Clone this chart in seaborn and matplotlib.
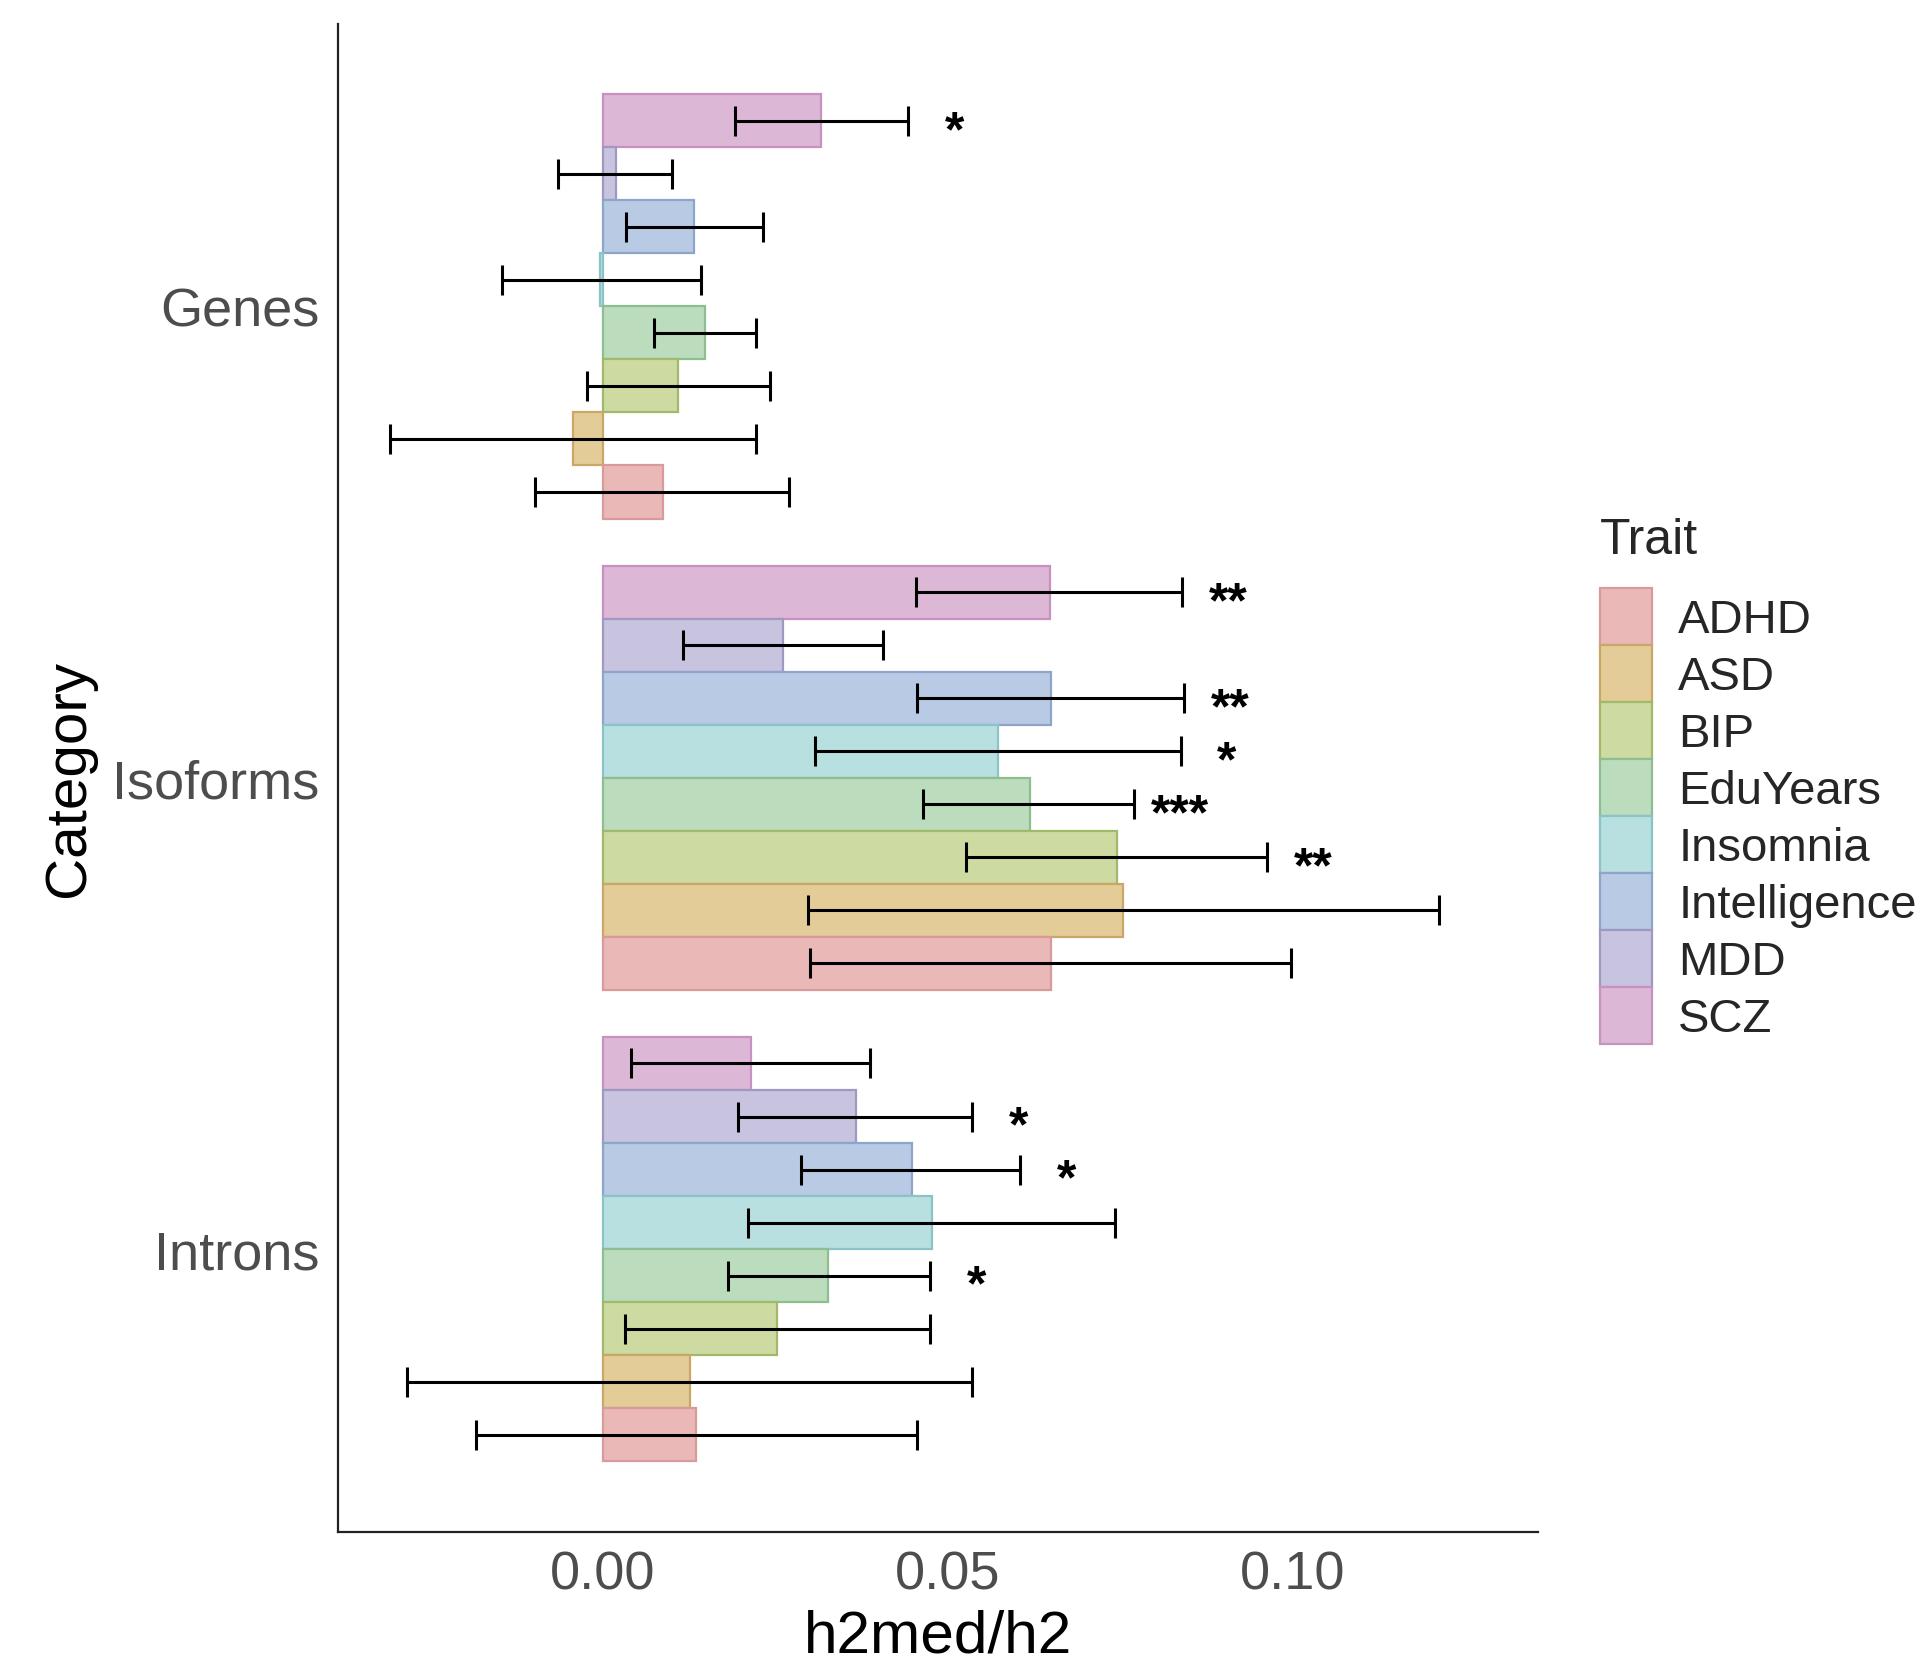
import pandas as pd
import numpy as np
import matplotlib
matplotlib.use('Agg')
import matplotlib.pyplot as plt
import seaborn as sns
from matplotlib.patches import Patch

# Categories (top to bottom) and traits (legend order)
categories = ['Genes', 'Isoforms', 'Introns']
traits = ['ADHD', 'ASD', 'BIP', 'EduYears', 'Insomnia', 'Intelligence', 'MDD', 'SCZ']

# h2med/h2 estimates, lower and upper error bounds, significance stars (trait order)
genes_est = [0.0087, -0.0043, 0.0109, 0.0149, -0.0004, 0.0132, 0.0020, 0.0317]
genes_lo = [-0.0098, -0.0308, -0.0023, 0.0075, -0.0146, 0.0034, -0.0064, 0.0192]
genes_hi = [0.0270, 0.0222, 0.0242, 0.0222, 0.0142, 0.0233, 0.0101, 0.0443]
genes_sig = ['', '', '', '', '', '', '', '*']

isoforms_est = [0.0650, 0.0754, 0.0746, 0.0619, 0.0573, 0.0650, 0.0262, 0.0648]
isoforms_lo = [0.0301, 0.0297, 0.0527, 0.0464, 0.0308, 0.0456, 0.0116, 0.0454]
isoforms_hi = [0.0998, 0.1212, 0.0963, 0.0770, 0.0838, 0.0842, 0.0406, 0.0840]
isoforms_sig = ['', '', '**', '***', '*', '**', '', '**']

introns_est = [0.0135, 0.0126, 0.0253, 0.0327, 0.0477, 0.0448, 0.0367, 0.0215]
introns_lo = [-0.0183, -0.0283, 0.0032, 0.0181, 0.0210, 0.0288, 0.0196, 0.0041]
introns_hi = [0.0456, 0.0536, 0.0475, 0.0475, 0.0742, 0.0605, 0.0536, 0.0388]
introns_sig = ['', '', '', '*', '', '*', '*', '']

fill_colors = ['#EBB8B8', '#E4CC98', '#CDDBA2', '#BCDDBD', '#B9E0E0', '#B9CAE5', '#C8C4DF', '#DDB8D6']
edge_colors = ['#D89A9A', '#C9A766', '#A2B86A', '#8DBD90', '#8CC3C7', '#8DA5CB', '#9D99C2', '#C892C0']

rows = []
for cat, est, lo, hi, sig in [
    ('Genes', genes_est, genes_lo, genes_hi, genes_sig),
    ('Isoforms', isoforms_est, isoforms_lo, isoforms_hi, isoforms_sig),
    ('Introns', introns_est, introns_lo, introns_hi, introns_sig),
]:
    for t, e, l, h, s in zip(traits, est, lo, hi, sig):
        rows.append({'Category': cat, 'Trait': t, 'h2': e, 'lo': l, 'hi': h, 'sig': s})
df = pd.DataFrame(rows)

sns.set_style('white')
plt.rcParams['font.family'] = ['Liberation Sans', 'DejaVu Sans']

fig = plt.figure(figsize=(19.25, 16.74), dpi=100)
ax = fig.add_axes([0.1754, 0.0843, 0.6237, 0.901])

# SCZ on top inside each group -> reversed hue order on an inverted y axis
hue_order = traits[::-1]
palette = dict(zip(traits, fill_colors))
edges = dict(zip(traits, edge_colors))

sns.barplot(data=df, x='h2', y='Category', hue='Trait', order=categories,
            hue_order=hue_order, palette=palette, saturation=1, width=0.9,
            orient='h', errorbar=None, legend=False, linewidth=1.6, ax=ax)

for trait, cont in zip(hue_order, ax.containers):
    for bar in cont:
        bar.set_edgecolor(edges[trait])
        yc = bar.get_y() + bar.get_height() / 2
        cat = categories[int(round(yc))]
        r = df[(df['Category'] == cat) & (df['Trait'] == trait)].iloc[0]
        half = (r['hi'] - r['lo']) / 2
        ax.errorbar([(r['lo'] + r['hi']) / 2], [yc], xerr=[[half], [half]],
                    fmt='none', ecolor='black', elinewidth=2.2, capsize=10.5, capthick=2.2, zorder=5)
        if r['sig']:
            ax.annotate(r['sig'], (r['hi'] + 0.0067, yc), xytext=(0, -8), textcoords='offset points',
                        ha='center', va='center', fontsize=36, fontweight='bold', color='black')

ax.set_xlim(-0.0384, 0.1356)
ax.set_ylim(2.6, -0.6)
ax.set_xticks([0.0, 0.05, 0.10])
ax.set_xticklabels(['0.00', '0.05', '0.10'])
ax.tick_params(axis='both', labelsize=39, colors='#4D4D4D', length=7, width=1.4, pad=6)
ax.set_xlabel('h2med/h2', fontsize=43.5, color='black', labelpad=6)
ax.set_ylabel('Category', fontsize=42, color='black', labelpad=12)

for side in ['top', 'right']:
    ax.spines[side].set_visible(False)
for side in ['left', 'bottom']:
    ax.spines[side].set_color('#222222')
    ax.spines[side].set_linewidth(1.6)

handles = [Patch(facecolor=fc, edgecolor=ec, linewidth=1.6) for fc, ec in zip(fill_colors, edge_colors)]
leg = fig.legend(handles, traits, title='Trait', loc='center left', bbox_to_anchor=(0.8215, 0.533),
                 frameon=False, fontsize=34, title_fontsize=36, handlelength=1.1, handleheight=1.48,
                 labelspacing=0.0, handletextpad=0.55, alignment='left', borderaxespad=0)
leg._legend_box.sep = 18

fig.savefig('out.png', dpi=100)
